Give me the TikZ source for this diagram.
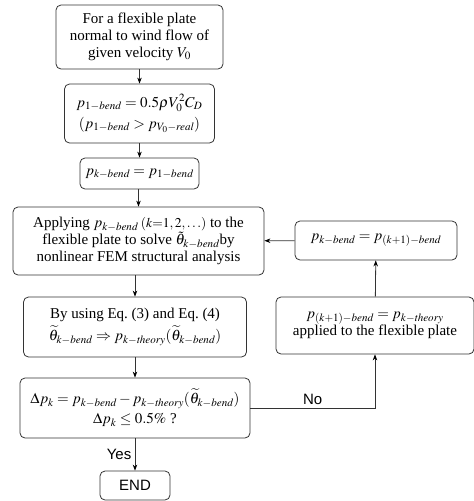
\documentclass[tikz,border=0pt]{standalone}
\usepackage{amsmath, amssymb}
\usepackage{mathptmx}
\usepackage{fontspec}
\setmainfont{Liberation Serif}
\newfontfamily\labelfont{Liberation Sans}
\usepackage{tikz}
\usetikzlibrary{arrows.meta}

\begin{document}
\begin{tikzpicture}[x=1pt,y=-1pt]
		\useasboundingbox (0,0) rectangle (474,501);
		\begin{scope}[every node/.style={draw=black!80,line width=0.8pt,rounded corners=5pt,align=center,inner sep=2pt,
		              font=\fontsize{15}{17}\selectfont}]
		    \node [minimum width=167pt,minimum height=64pt] (0) at (139.5,37) {For a flexible plate\\normal to wind flow of\\given velocity $V_0$};
		    \node [minimum width=150pt,minimum height=59pt] (1) at (139.5,113.5) {$p_{1-\mathit{bend}}=0.5\rho V_0^2C_D$\\[4pt]$(p_{1-\mathit{bend}}>p_{V_0-\mathit{real}})$};
		    \node [minimum width=119pt,minimum height=31pt] (2) at (139.5,173.5) {$p_{k-\mathit{bend}}=p_{1-\mathit{bend}}$};
		    \node [minimum width=251pt,minimum height=68pt] (3) at (138.5,241) {Applying $p_{k-\mathit{bend}}$\,{\fontsize{13.5}{15}\selectfont$(k{=}1,2,\ldots)$} to the\\flexible plate to solve $\tilde{\theta}_{k-\mathit{bend}}$by\\nonlinear FEM structural analysis};
		    \node [minimum width=223pt,minimum height=60pt] (4) at (135,327) {By using Eq.~(3) and Eq.~(4)\\[3pt]$\widetilde{\theta}_{k-\mathit{bend}}\Rightarrow p_{k-\mathit{theory}}(\widetilde{\theta}_{k-\mathit{bend}})$};
		    \node [minimum width=230pt,minimum height=60pt] (5) at (135,408) {$\Delta p_k=p_{k-\mathit{bend}}-p_{k-\mathit{theory}}(\widetilde{\theta}_{k-\mathit{bend}})$\\[3pt]$\Delta p_k\le 0.5\%$ ?};
		    \node [minimum width=70pt,minimum height=29pt,font=\labelfont\fontsize{15}{17}\selectfont] (6) at (135,485.5) {END};
		    \node [minimum width=162pt,minimum height=39pt] (7) at (376,240.5) {$p_{k-\mathit{bend}}=p_{(k+1)-\mathit{bend}}$};
		    \node [minimum width=198pt,minimum height=57pt] (8) at (375,325.5) {$p_{(k+1)-\mathit{bend}}=p_{k-\mathit{theory}}$\\applied to the flexible plate};
		\end{scope}

		\begin{scope}[>={Stealth[black,length=6pt,width=4.5pt]},
		              every node/.style={font=\labelfont\fontsize{15}{17}\selectfont},
		              every edge/.style={draw=black!80,line width=0.8pt}]
		    \path [->] (0) edge (1);
		    \path [->] (1) edge (2);
		    \path [->] (2.south -| 3) edge (3);
		    \path [->] (3.south -| 4) edge (4);
		    \path [->] (4) edge (5);
		    \path [->] (5) edge node [left,pos=0.5] {Yes} (6);
		    \draw [->,draw=black!80,line width=0.8pt] (5) -| node [pos=0.25,above] {No} (8);
		    \path [->] (8) edge (7);
		    \path [->] (7) edge (3);
		\end{scope}
\end{tikzpicture}
\end{document}
